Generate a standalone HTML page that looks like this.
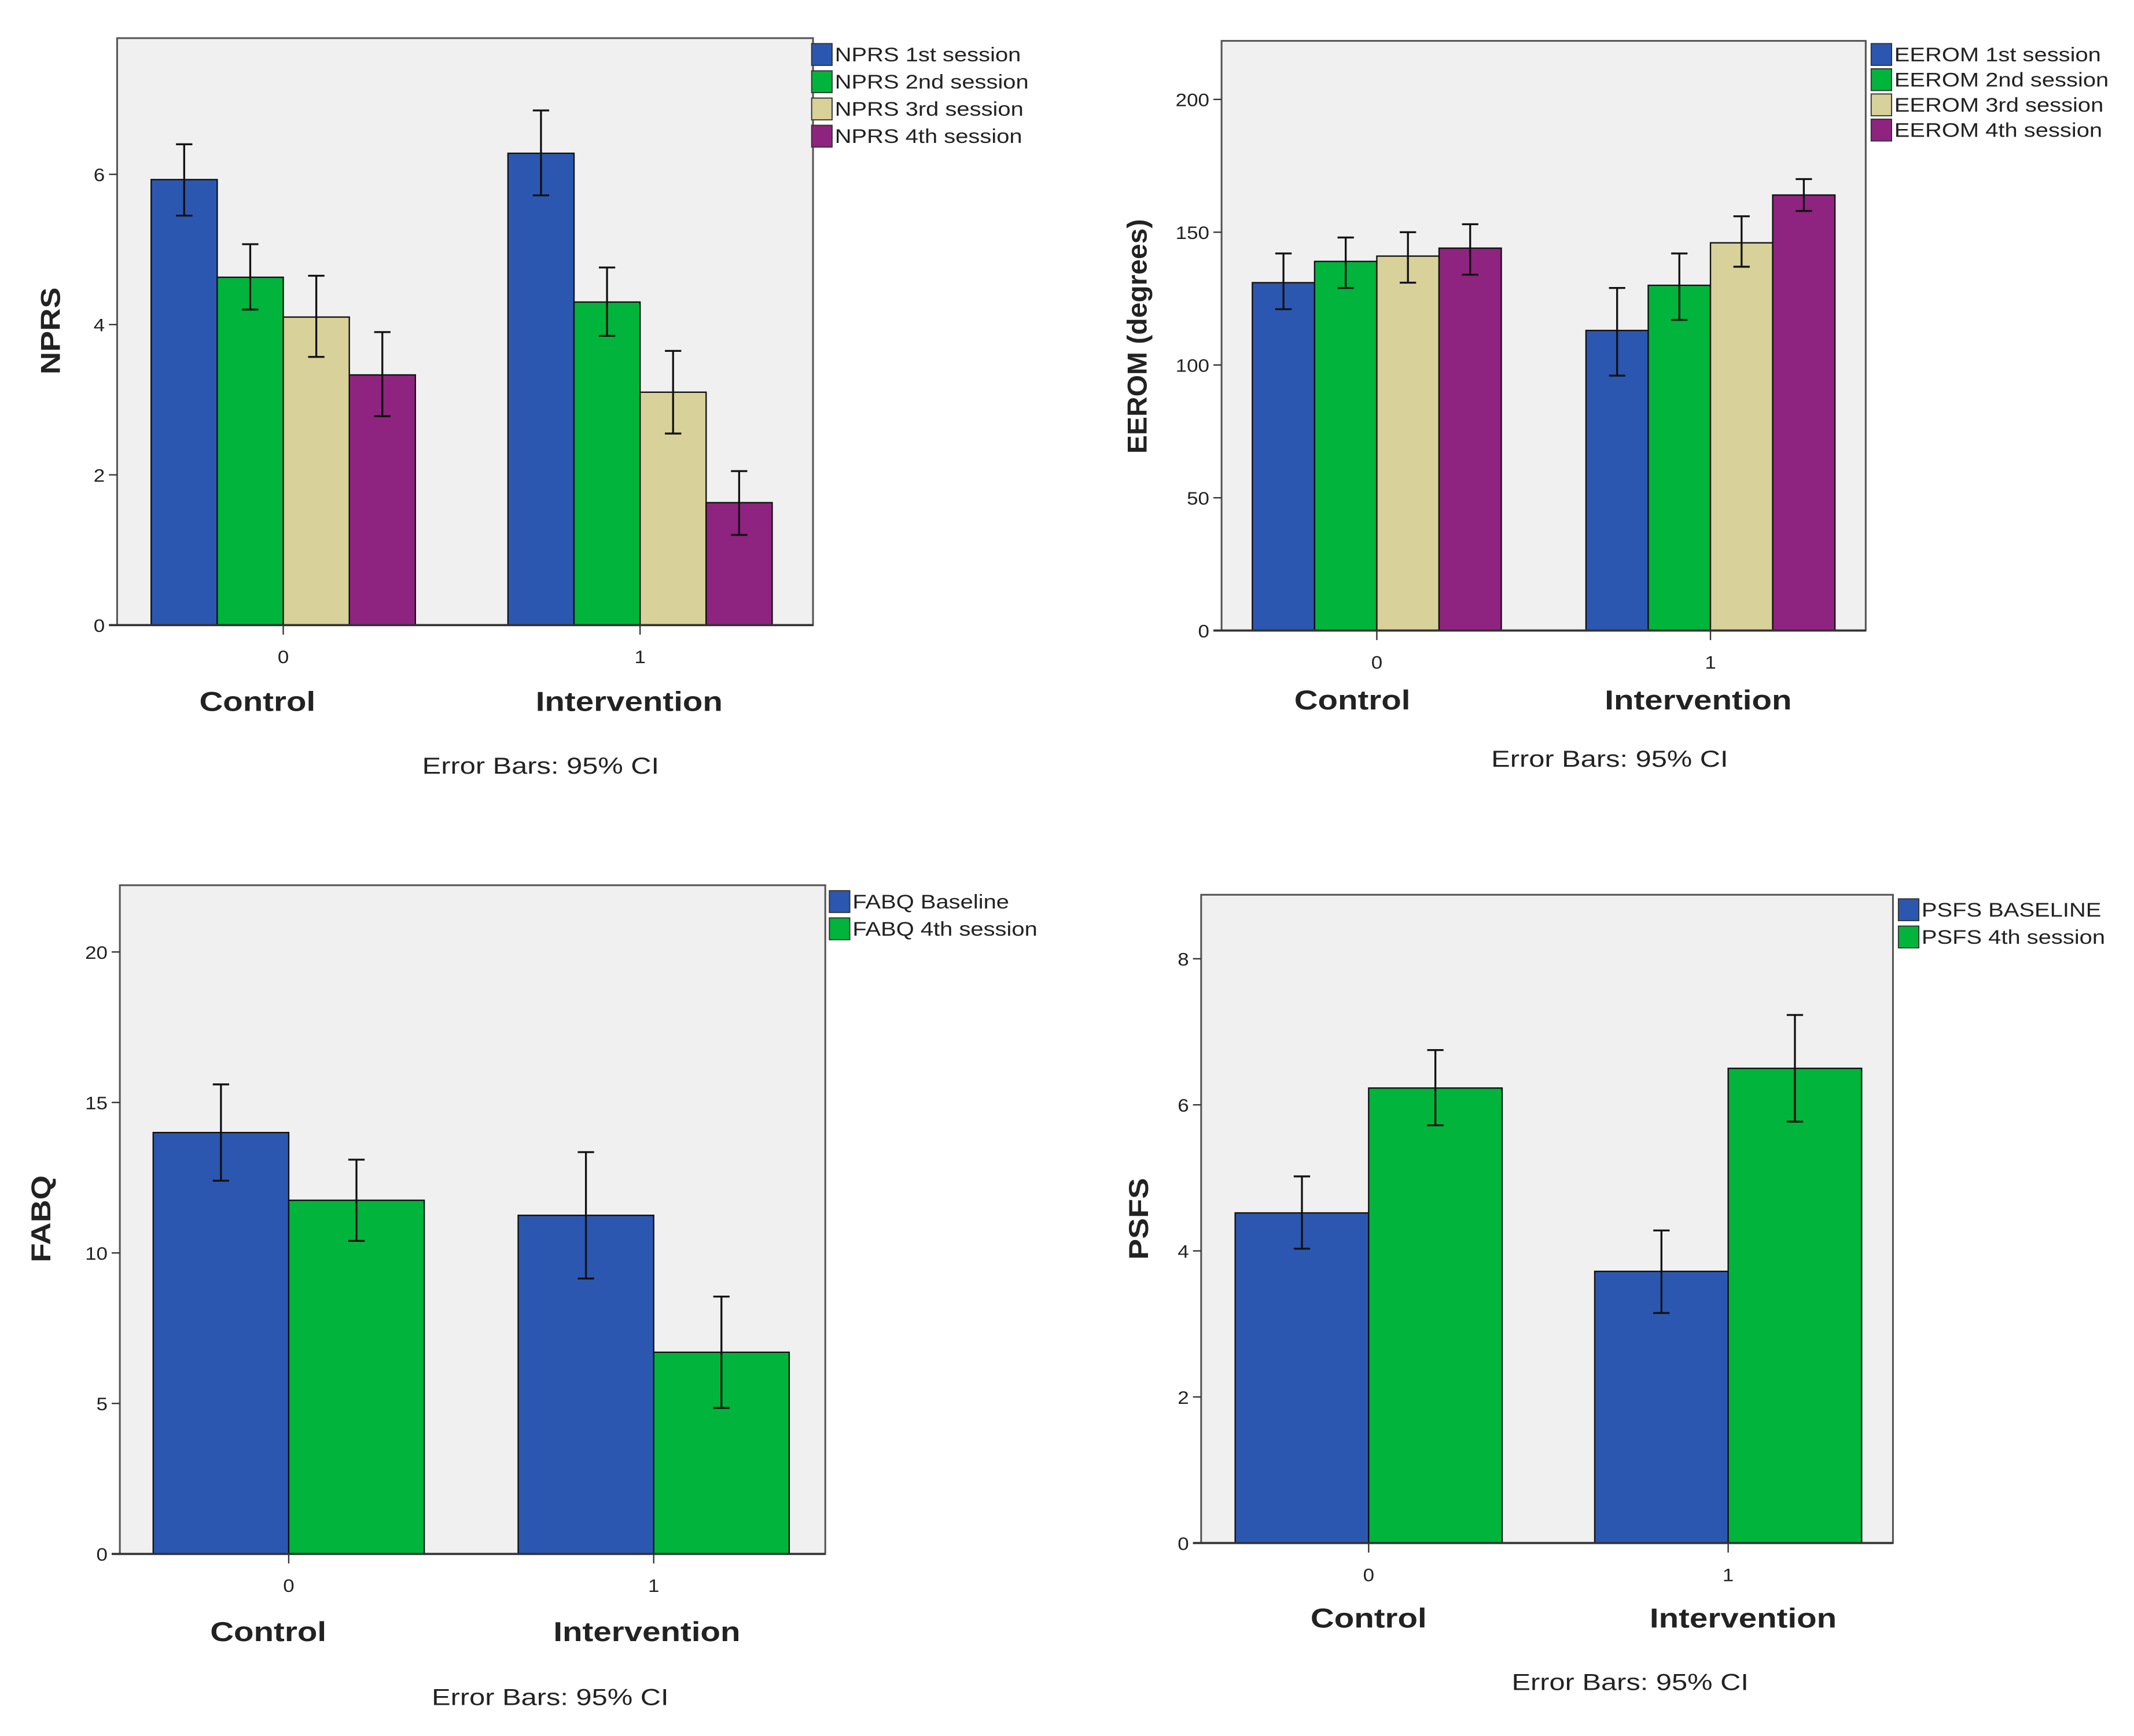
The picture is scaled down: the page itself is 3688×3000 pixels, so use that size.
<!DOCTYPE html>
<html><head><meta charset="utf-8"><style>
html,body{margin:0;padding:0;background:#fff;}
svg{display:block;}
text{font-family:"Liberation Sans",Arial,sans-serif;fill:#222;}
</style></head><body>
<svg id="fig" width="3688" height="3000" viewBox="0 0 1567 1274.7" preserveAspectRatio="none" xmlns="http://www.w3.org/2000/svg"></svg>
<script>
// ---- NPRS chart data ----
const nprsCategories = ["Control", "Intervention"];
const nprsSeries = ["NPRS 1st session", "NPRS 2nd session", "NPRS 3rd session", "NPRS 4th session"];
const nprsMeans = [[5.93, 4.63, 4.10, 3.33], [6.28, 4.30, 3.10, 1.63]];
const nprsLow = [[5.45, 4.20, 3.57, 2.78], [5.72, 3.85, 2.55, 1.20]];
const nprsHigh = [[6.40, 5.07, 4.65, 3.90], [6.85, 4.76, 3.65, 2.05]];
const nprsTicks = [0, 2, 4, 6];

// ---- EEROM chart data ----
const eeromCategories = ["Control", "Intervention"];
const eeromSeries = ["EEROM 1st session", "EEROM 2nd session", "EEROM 3rd session", " EEROM 4th session"];
const eeromMeans = [[131, 139, 141, 144], [113, 130, 146, 164]];
const eeromLow = [[121, 129, 131, 134], [96, 117, 137, 158]];
const eeromHigh = [[142, 148, 150, 153], [129, 142, 156, 170]];
const eeromTicks = [0, 50, 100, 150, 200];

// ---- FABQ chart data ----
const fabqCategories = ["Control", "Intervention"];
const fabqSeries = ["FABQ Baseline", "FABQ 4th session"];
const fabqMeans = [[14.0, 11.75], [11.25, 6.7]];
const fabqLow = [[12.4, 10.4], [9.15, 4.85]];
const fabqHigh = [[15.6, 13.1], [13.35, 8.55]];
const fabqTicks = [0, 5, 10, 15, 20];

// ---- PSFS chart data ----
const psfsCategories = ["Control", "Intervention"];
const psfsSeries = ["PSFS BASELINE", "PSFS 4th session"];
const psfsMeans = [[4.52, 6.23], [3.72, 6.50]];
const psfsLow = [[4.03, 5.72], [3.15, 5.77]];
const psfsHigh = [[5.02, 6.75], [4.28, 7.23]];
const psfsTicks = [0, 2, 4, 6, 8];

const COLORS = ["#2c57b0", "#00b43c", "#d8d19a", "#8f2380"];
const NS = "http://www.w3.org/2000/svg";
const svg = document.getElementById("fig");

function mk(tag, attrs, parent, txt) {
  const e = document.createElementNS(NS, tag);
  for (const k in attrs) e.setAttribute(k, attrs[k]);
  if (txt !== undefined) e.textContent = txt;
  (parent || svg).appendChild(e);
  return e;
}
// horizontally stretched text
function stext(x, y, sx, attrs, parent, txt) {
  attrs.x = 0; attrs.y = 0;
  attrs.transform = `translate(${x},${y}) scale(${sx},1)`;
  return mk("text", attrs, parent, txt);
}

function drawChart(cfg) {
  const g = mk("g", {});
  
  
  const f = cfg.frame;
  const y = v => cfg.y0 - v * (cfg.y0 - cfg.yRef) / cfg.refVal;
  const bg = mk("rect", {x: f.x0, y: f.y0, width: f.x1 - f.x0, height: f.y1 - f.y0, fill: "#f0f0f0", stroke: "#555", "stroke-width": 1.3}, g);
  
  
  cfg.ticks.forEach(t => {
    const yy = y(t);
    const tl = mk("line", {x1: f.x0 - 6, x2: f.x0, y1: yy, y2: yy, stroke: "#333", "stroke-width": 1}, g);
    
    
    const tx = stext(f.x0 - 9, yy + 5, 1.1, {"text-anchor": "end", "font-size": 13.5, fill: "#333"}, g, String(t));
    
    
  });
  const n = cfg.series.length;
  cfg.categories.forEach((c, ci) => {
    const gx0 = cfg.groupX[ci] - cfg.barW * n / 2;
    for (let si = 0; si < n; si++) {
      const bx = gx0 + si * cfg.barW;
      const top = y(cfg.means[ci][si]);
      const b = mk("rect", {x: bx, y: top, width: cfg.barW, height: y(0) - top, fill: COLORS[si], stroke: "#111", "stroke-width": 1}, g);
      
      
      const cx = bx + cfg.barW / 2, yl = y(cfg.low[ci][si]), yh = y(cfg.high[ci][si]);
      const eb = mk("path", {d: `M${cx},${yl}V${yh}M${cx - 6},${yh}H${cx + 6}M${cx - 6},${yl}H${cx + 6}`, stroke: "#111", "stroke-width": 1.4, fill: "none"}, g);
      
      
    }
    const xt = mk("line", {x1: cfg.groupX[ci], x2: cfg.groupX[ci], y1: f.y1, y2: f.y1 + 7, stroke: "#333", "stroke-width": 1}, g);
    
    
    const xl = stext(cfg.groupX[ci], f.y1 + 28, 1.1, {"text-anchor": "middle", "font-size": 13.5, fill: "#333"}, g, String(ci));
    
    
    const cl = stext(cfg.catX[ci], cfg.catY, 1.2, {"text-anchor": "middle", "font-size": 20, "font-weight": "bold"}, g, c);
    
    
  });
  const bl = mk("line", {x1: f.x0 - 6, x2: f.x1, y1: f.y1, y2: f.y1, stroke: "#333", "stroke-width": 1.6}, g);
  
  
  const yt = mk("text", {x: 0, y: 0, transform: `translate(${cfg.yTitle[0]},${cfg.yTitle[1]}) rotate(-90) scale(${cfg.yStretch},1)`, "text-anchor": "middle", "font-size": 20, "font-weight": "bold"}, g, cfg.yLabel);
  
  
  cfg.series.forEach((s, si) => {
    const ly = cfg.legend.y + si * cfg.legend.dy;
    const sw = mk("rect", {x: cfg.legend.x, y: ly - 8, width: 15, height: 16, fill: COLORS[si], stroke: "#333", "stroke-width": 0.8}, g);
    
    
    const lt = stext(cfg.legend.x + 17, ly + 5, 1.17, {"font-size": 14.5, fill: "#333"}, g, s);
    
    
  });
  const note = stext(cfg.note[0], cfg.note[1], 1.22, {"text-anchor": "middle", "font-size": 17, fill: "#333"}, g, "Error Bars: 95% CI");
  
  
}

drawChart({name: "nprs-chart", frame: {x0: 86, x1: 597, y0: 28, y1: 459}, y0: 459, yRef: 128, refVal: 6,
  ticks: nprsTicks, categories: nprsCategories, series: nprsSeries, means: nprsMeans, low: nprsLow, high: nprsHigh,
  groupX: [208, 470], barW: 48.5, catX: [189, 462], catY: 522, yLabel: "NPRS", yStretch: 1.15, yTitle: [44, 243],
  legend: {x: 596, y: 40, dy: 20}, note: [397, 568]});
drawChart({name: "eerom-chart", frame: {x0: 897, x1: 1370, y0: 30, y1: 463}, y0: 463, yRef: 73, refVal: 200,
  ticks: eeromTicks, categories: eeromCategories, series: eeromSeries, means: eeromMeans, low: eeromLow, high: eeromHigh,
  groupX: [1011, 1256], barW: 45.7, catX: [993, 1247], catY: 521, yLabel: "EEROM (degrees)", yStretch: 1.02, yTitle: [842, 247],
  legend: {x: 1374, y: 40, dy: 18.5}, note: [1182, 563]});
drawChart({name: "fabq-chart", frame: {x0: 88, x1: 606, y0: 650, y1: 1141}, y0: 1141, yRef: 699, refVal: 20,
  ticks: fabqTicks, categories: fabqCategories, series: fabqSeries, means: fabqMeans, low: fabqLow, high: fabqHigh,
  groupX: [212, 480], barW: 99.5, catX: [197, 475], catY: 1205, yLabel: "FABQ", yStretch: 1.15, yTitle: [37, 895],
  legend: {x: 609, y: 662, dy: 20}, note: [404, 1252]});
drawChart({name: "psfs-chart", frame: {x0: 882, x1: 1390, y0: 657, y1: 1133}, y0: 1133, yRef: 704, refVal: 8,
  ticks: psfsTicks, categories: psfsCategories, series: psfsSeries, means: psfsMeans, low: psfsLow, high: psfsHigh,
  groupX: [1005, 1269], barW: 98, catX: [1005, 1280], catY: 1195, yLabel: "PSFS", yStretch: 1.15, yTitle: [843, 895],
  legend: {x: 1394, y: 668, dy: 20}, note: [1197, 1241]});
</script>
</body></html>
